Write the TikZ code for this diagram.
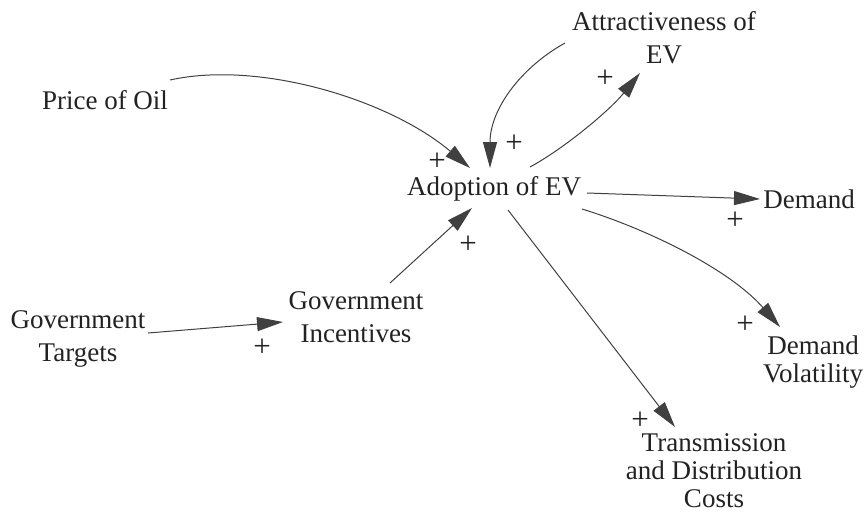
\documentclass[tikz,border=0pt]{standalone}
\usepackage{fontspec}
\setmainfont{Liberation Serif}
\usetikzlibrary{arrows.meta}
\definecolor{inkgray}{HTML}{222222}
\definecolor{linkgray}{HTML}{404040}
\begin{document}
\begin{tikzpicture}[x=1pt,y=-1pt,
  var/.style={inner sep=0pt, text=inkgray, align=center,
    font=\fontsize{27}{33}\selectfont},
  tight/.style={font=\fontsize{27}{27.5}\selectfont},
  link/.style={draw=linkgray, line width=1pt,
    -{Triangle[length=26pt,width=14pt,fill=linkgray]}},
  pol/.style={inner sep=0pt, text=inkgray, font=\fontsize{31}{31}\selectfont}]
  \useasboundingbox (0,0) rectangle (864,512);

  % variables
  \node[var, anchor=base] (adopt) at (494,195) {Adoption of EV};
  \node[var, anchor=base] (price) at (105,109) {Price of Oil};
  \node[var, anchor=base] (demand) at (809,208) {Demand};
  \node[var] (attr) at (664,38) {Attractiveness of\\EV};
  \node[var] (incent) at (356,317) {Government\\Incentives};
  \node[var] (target) at (78,339) {Government\\Targets};
  \node[var, tight] (vol) at (813,362) {Demand\\Volatility};
  \node[var, font=\fontsize{27}{28}\selectfont] (trans) at (714,471)
    {Transmission\\and Distribution\\Costs};

  % causal links
  \draw[link] ([shift={(65,-29)}]price.base)
    .. controls (260,60) and (390,100) .. ([shift={(-24,-27)}]adopt.base);
  \draw[link] ([shift={(-99,5)}]attr.center)
    .. controls (520,68) and (490,110) .. ([shift={(-4,-27)}]adopt.base);
  \draw[link] ([shift={(36,-28)}]adopt.base)
    .. controls (565,148) and (610,110) .. ([shift={(-24,35)}]attr.center);
  \draw[link] ([shift={(93,-2)}]adopt.base) -- ([shift={(-49,-9)}]demand.base);
  \draw[link] ([shift={(88,14)}]adopt.base)
    .. controls (650,230) and (730,270) .. ([shift={(-33,-35)}]vol.center);
  \draw[link] ([shift={(14,15)}]adopt.base) -- ([shift={(-39,-44)}]trans.center);
  \draw[link] ([shift={(34,-34)}]incent.center) -- ([shift={(-22,13)}]adopt.base);
  \draw[link] ([shift={(70,-6)}]target.center) -- ([shift={(-73,5)}]incent.center);

  % link polarities
  \node[pol] (p1) at (437,162) {+};
  \node[pol] (p2) at (514,144) {+};
  \node[pol] (p3) at (605,79) {+};
  \node[pol] (p4) at (735,221) {+};
  \node[pol] (p5) at (745,325) {+};
  \node[pol] (p6) at (640,421) {+};
  \node[pol] (p7) at (468,245) {+};
  \node[pol] (p8) at (262,348) {+};
\end{tikzpicture}
\end{document}
